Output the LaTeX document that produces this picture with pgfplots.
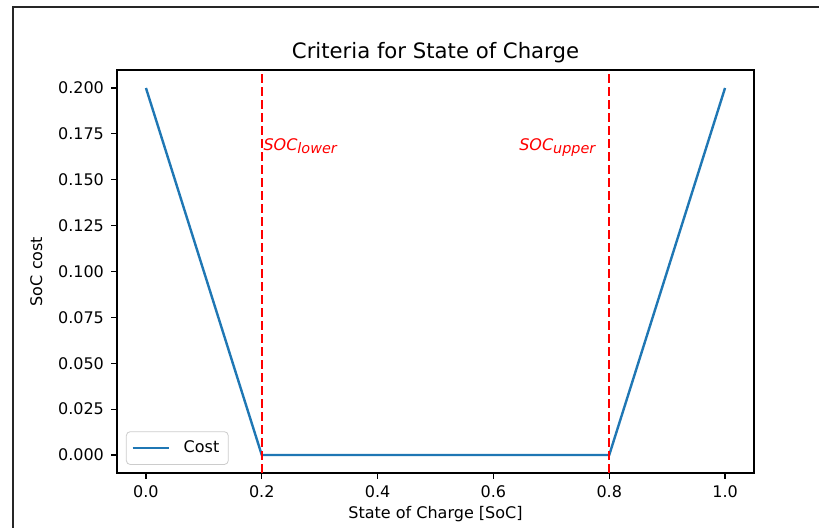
\documentclass[border=0pt]{standalone}
\usepackage{fontspec}
\setmainfont{DejaVu Sans}
\usepackage{pgfplots}
\pgfplotsset{compat=1.18}
\definecolor{mplblue}{HTML}{1F77B4}
\newcommand{\sub}[1]{\raisebox{-1.8pt}{\fontsize{7.2}{7.5}\selectfont #1}}
\begin{document}
\begin{tikzpicture}
\useasboundingbox (0,0) rectangle (409.5pt,264pt);
\draw[line width=1pt, black!85] (6.5pt,0) -- (6.5pt,260.5pt) -- (409.5pt,260.5pt);
\begin{axis}[
  at={(58.5pt,27.5pt)}, anchor=south west,
  scale only axis, width=318.5pt, height=201.5pt,
  xmin=-0.05, xmax=1.05, ymin=-0.0098, ymax=0.2098,
  xtick={0,0.2,0.4,0.6,0.8,1.0},
  ytick={0,0.025,0.05,0.075,0.1,0.125,0.15,0.175,0.2},
  xticklabel style={/pgf/number format/.cd, fixed, fixed zerofill, precision=1},
  yticklabel style={/pgf/number format/.cd, fixed, fixed zerofill, precision=3},
  /pgf/number format/assume math mode=true,
  scaled y ticks=false,
  tick align=outside, tick pos=left,
  major tick length=3pt,
  every tick/.style={black, line width=0.6pt},
  axis line style={line width=0.6pt},
  ticklabel style={font=\fontsize{8}{9.6}\selectfont},
  title={Criteria for State of Charge},
  title style={font=\fontsize{10.6}{12}\selectfont, yshift=-6pt},
  xlabel={State of Charge [SoC]},
  ylabel={SoC cost},
  label style={font=\fontsize{8}{9.6}\selectfont},
  xlabel style={yshift=3pt},
  ylabel style={yshift=1pt},
  legend style={at={(0.014,0.02)}, anchor=south west, draw=black!20, rounded corners=2pt, font=\fontsize{8}{9.6}\selectfont, inner sep=2.5pt, row sep=0pt},
  legend cell align=left,
  legend image code/.code={\draw[#1] (0pt,0pt) -- (18pt,0pt);},
  legend image post style={line width=1.2pt},
]
\addplot[color=mplblue, line width=1.2pt] coordinates {(0,0.2) (0.2,0) (0.8,0) (1.0,0.2)};
\addlegendentry{\hspace{5pt}Cost}
\addplot[red, line width=1.2pt, dash pattern=on 4.5pt off 2pt, forget plot] coordinates {(0.2,-0.0098) (0.2,0.2098)};
\addplot[red, line width=1.2pt, dash pattern=on 4.5pt off 2pt, forget plot] coordinates {(0.8,-0.0098) (0.8,0.2098)};
\node[anchor=base west, red, inner sep=0pt, font=\fontsize{8}{9.6}\selectfont\itshape] at (axis cs:0.2024,0.166) {SOC\sub{lower}};
\node[anchor=base west, red, inner sep=0pt, font=\fontsize{8}{9.6}\selectfont\itshape] at (axis cs:0.644,0.166) {SOC\sub{upper}};
\end{axis}
\end{tikzpicture}
\end{document}
